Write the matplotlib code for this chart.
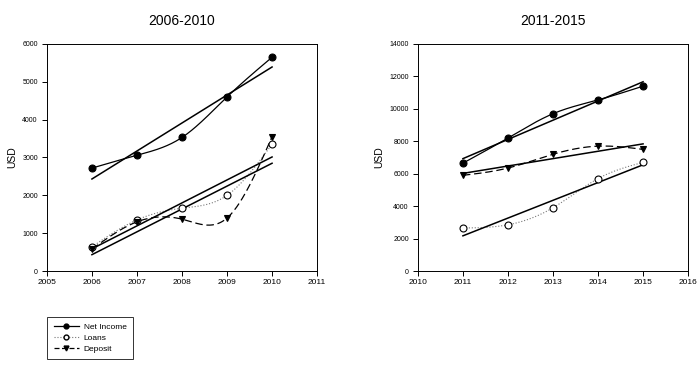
import matplotlib
matplotlib.use("Agg")
import matplotlib.pyplot as plt
import numpy as np
from matplotlib.lines import Line2D

plt.rcParams['font.family'] = ['Liberation Sans', 'DejaVu Sans']

years_a = [2006, 2007, 2008, 2009, 2010]
net_income_a = [2720, 3060, 3530, 4600, 5650]
loans_a = [640, 1350, 1660, 2000, 3350]
deposit_a = [580, 1300, 1370, 1400, 3550]

years_b = [2011, 2012, 2013, 2014, 2015]
net_income_b = [6650, 8200, 9700, 10550, 11400]
loans_b = [2650, 2850, 3900, 5700, 6700]
deposit_b = [5900, 6350, 7200, 7700, 7500]

titles = ["2006-2010", "2011-2015"]


def spline(x, y, n=200):
    '''
        Curva spline cubica naturale per disegnare il collegamento tra i punti
    '''
    x = np.asarray(x, float)
    y = np.asarray(y, float)
    k = len(x)
    h = np.diff(x)
    A = np.zeros((k, k))
    b = np.zeros(k)
    A[0, 0] = A[-1, -1] = 1
    for i in range(1, k - 1):
        A[i, i - 1] = h[i - 1]
        A[i, i] = 2 * (h[i - 1] + h[i])
        A[i, i + 1] = h[i]
        b[i] = 6 * ((y[i + 1] - y[i]) / h[i] - (y[i] - y[i - 1]) / h[i - 1])
    M = np.linalg.solve(A, b)
    xs = np.linspace(x[0], x[-1], n)
    idx = np.clip(np.searchsorted(x, xs) - 1, 0, k - 2)
    x0, x1 = x[idx], x[idx + 1]
    hh = x1 - x0
    ys = (M[idx] * (x1 - xs) ** 3 / (6 * hh) + M[idx + 1] * (xs - x0) ** 3 / (6 * hh)
          + (y[idx] / hh - M[idx] * hh / 6) * (x1 - xs)
          + (y[idx + 1] / hh - M[idx + 1] * hh / 6) * (xs - x0))
    return xs, ys


def draw(ax, years, series, title, ymax, ystep, label_x):
    styles = [
        dict(ls='-', lw=0.9, color='black', marker='o', mfc='black', mec='black'),
        dict(ls=':', lw=0.8, color='#777777', marker='o', mfc='white', mec='black'),
        dict(ls=(0, (6, 3)), lw=0.9, color='black', marker='v', mfc='black', mec='black'),
    ]
    for y, st in zip(series, styles):
        xs, ys = spline(years, y)
        ax.plot(xs, ys, ls=st['ls'], lw=st['lw'], color=st['color'])
        ax.plot(years, y, ls='none', marker=st['marker'], ms=5,
                mfc=st['mfc'], mec=st['mec'], mew=0.8, zorder=5)
        # -- retta di regressione
        p = np.polyfit(years, y, 1)
        ax.plot([years[0], years[-1]], np.polyval(p, [years[0], years[-1]]),
                color='black', lw=1.1)
    ax.set_xlim(years[0] - 1, years[-1] + 1)
    ax.set_ylim(0, ymax)
    ax.set_xticks(np.arange(years[0] - 1, years[-1] + 2))
    ax.set_yticks(np.arange(0, ymax + 1, ystep))
    ax.tick_params(direction='out', length=3.5, width=0.7, top=False, right=False)
    ax.tick_params(axis='x', labelsize=6, pad=2)
    ax.tick_params(axis='y', labelsize=5, pad=3)
    for s in ax.spines.values():
        s.set_linewidth(0.7)
    ax.set_ylabel('USD', fontsize=7.5)
    ax.yaxis.set_label_coords(label_x, 0.5)
    ax.set_title(title, fontsize=10, pad=14)


fig = plt.figure(figsize=(7, 3.65), dpi=100)
ax1 = fig.add_axes([0.067, 0.2575, 0.386, 0.622])
ax2 = fig.add_axes([0.597, 0.2575, 0.386, 0.622])

draw(ax1, years_a, [net_income_a, loans_a, deposit_a], titles[0], 6000, 1000, -0.111)
draw(ax2, years_b, [net_income_b, loans_b, deposit_b], titles[1], 14000, 2000, -0.126)

handles = [
    Line2D([], [], color='black', lw=0.9, marker='o', ms=3.5, mfc='black'),
    Line2D([], [], color='#777777', lw=0.8, ls=':', marker='o', ms=3.5, mfc='white', mec='black'),
    Line2D([], [], color='black', lw=0.9, ls=(0, (4, 2)), marker='v', ms=3.5, mfc='black'),
]
leg = fig.legend(handles, ['Net Income', 'Loans', 'Deposit'], loc='upper left',
                 bbox_to_anchor=(0.067, 0.132), fontsize=6, frameon=True,
                 fancybox=False, edgecolor='black', handlelength=3,
                 borderpad=0.8, labelspacing=0.35, handletextpad=0.6,
                 borderaxespad=0)
leg.get_frame().set_linewidth(0.7)

fig.savefig('out.png', dpi=100)
